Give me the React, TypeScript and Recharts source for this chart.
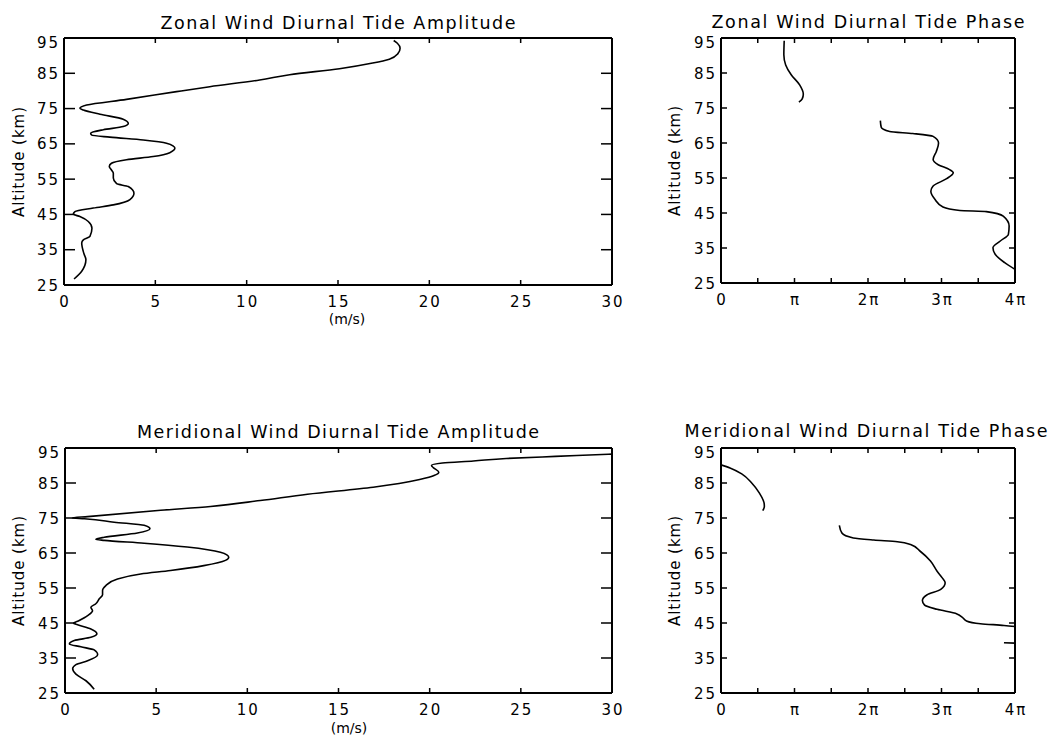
import React from 'react';
import { ScatterChart, Scatter, XAxis, YAxis } from 'recharts';

// altitude axis (km) shared by all panels
const ALT_TICKS = [25, 35, 45, 55, 65, 75, 85, 95];
const AMP_TICKS = [0, 5, 10, 15, 20, 25, 30];
// phase in units of pi
const PHASE_TICKS = [0, 0.5, 1, 1.5, 2, 2.5, 3, 3.5, 4];

type Pt = { x: number; alt: number };

// Zonal wind diurnal tide amplitude (m/s)
const zonalAmp: Pt[] = [
  { x: 0.55, alt: 26.7 }, { x: 0.97, alt: 28.9 }, { x: 1.2, alt: 32.2 }, { x: 1.09, alt: 33.9 },
  { x: 0.97, alt: 36.9 }, { x: 1.06, alt: 37.8 }, { x: 1.42, alt: 38.8 }, { x: 1.53, alt: 41.1 },
  { x: 1.33, alt: 43.0 }, { x: 0.87, alt: 44.4 }, { x: 0.51, alt: 45.1 }, { x: 0.6, alt: 45.8 },
  { x: 1.6, alt: 46.8 }, { x: 2.7, alt: 47.7 }, { x: 3.61, alt: 49.2 }, { x: 3.83, alt: 51.0 },
  { x: 3.52, alt: 52.9 }, { x: 2.88, alt: 53.7 }, { x: 2.7, alt: 55.3 }, { x: 2.7, alt: 56.7 },
  { x: 2.6, alt: 57.6 }, { x: 2.48, alt: 58.6 }, { x: 2.6, alt: 59.5 }, { x: 3.42, alt: 60.5 },
  { x: 4.88, alt: 61.4 }, { x: 5.79, alt: 62.5 }, { x: 6.07, alt: 63.8 }, { x: 5.61, alt: 65.2 },
  { x: 4.34, alt: 66.1 }, { x: 2.51, alt: 66.9 }, { x: 1.51, alt: 67.5 }, { x: 1.46, alt: 68.0 },
  { x: 2.15, alt: 69.0 }, { x: 3.24, alt: 69.9 }, { x: 3.52, alt: 70.8 }, { x: 3.24, alt: 72.0 },
  { x: 1.97, alt: 73.4 }, { x: 1.06, alt: 74.6 }, { x: 0.87, alt: 75.1 }, { x: 1.24, alt: 76.0 },
  { x: 3.42, alt: 77.6 }, { x: 6.16, alt: 79.8 }, { x: 7.98, alt: 81.2 }, { x: 10.71, alt: 83.1 },
  { x: 12.35, alt: 84.6 }, { x: 15.08, alt: 86.3 }, { x: 16.9, alt: 87.9 }, { x: 17.81, alt: 89.0 },
  { x: 18.27, alt: 90.5 }, { x: 18.4, alt: 92.1 }, { x: 18.25, alt: 93.5 }, { x: 18.05, alt: 94.3 },
];

// Zonal wind diurnal tide phase (units of pi)
const zonalPhaseUpper: Pt[] = [
  { x: 1.06, alt: 76.7 }, { x: 1.105, alt: 77.6 }, { x: 1.12, alt: 79.0 }, { x: 1.07, alt: 81.6 },
  { x: 0.955, alt: 84.5 }, { x: 0.88, alt: 87.3 }, { x: 0.855, alt: 90.2 }, { x: 0.86, alt: 94.2 },
];
const zonalPhaseLower: Pt[] = [
  { x: 4.0, alt: 28.9 }, { x: 3.86, alt: 30.8 }, { x: 3.73, alt: 33.2 }, { x: 3.7, alt: 35.1 },
  { x: 3.8, alt: 37.0 }, { x: 3.91, alt: 38.9 }, { x: 3.92, alt: 41.3 }, { x: 3.84, alt: 44.1 },
  { x: 3.61, alt: 45.4 }, { x: 3.25, alt: 45.7 }, { x: 3.02, alt: 46.7 }, { x: 2.91, alt: 48.9 },
  { x: 2.855, alt: 51.2 }, { x: 2.886, alt: 52.7 }, { x: 3.07, alt: 54.8 }, { x: 3.16, alt: 56.5 },
  { x: 3.11, alt: 57.4 }, { x: 2.955, alt: 58.8 }, { x: 2.886, alt: 60.3 }, { x: 2.93, alt: 62.6 },
  { x: 2.96, alt: 65.0 }, { x: 2.886, alt: 66.9 }, { x: 2.61, alt: 67.7 }, { x: 2.295, alt: 68.3 },
  { x: 2.18, alt: 69.5 }, { x: 2.168, alt: 71.4 },
];

// Meridional wind diurnal tide amplitude (m/s)
const merAmp: Pt[] = [
  { x: 1.6, alt: 26.1 }, { x: 1.15, alt: 28.5 }, { x: 0.6, alt: 30.4 }, { x: 0.42, alt: 31.9 },
  { x: 0.6, alt: 33.1 }, { x: 1.24, alt: 34.2 }, { x: 1.79, alt: 35.95 }, { x: 1.6, alt: 37.3 },
  { x: 0.87, alt: 38.2 }, { x: 0.24, alt: 39.0 }, { x: 0.51, alt: 40.0 }, { x: 1.42, alt: 40.9 },
  { x: 1.75, alt: 41.9 }, { x: 1.42, alt: 43.3 }, { x: 0.69, alt: 44.5 }, { x: 0.47, alt: 44.9 },
  { x: 0.78, alt: 45.7 }, { x: 1.24, alt: 47.1 }, { x: 1.51, alt: 48.5 }, { x: 1.42, alt: 49.5 },
  { x: 1.69, alt: 50.5 }, { x: 1.88, alt: 51.9 }, { x: 2.06, alt: 53.1 }, { x: 2.06, alt: 54.3 },
  { x: 2.24, alt: 55.7 }, { x: 2.88, alt: 57.6 }, { x: 4.15, alt: 59.0 }, { x: 5.79, alt: 60.0 },
  { x: 7.61, alt: 61.4 }, { x: 8.8, alt: 62.9 }, { x: 8.98, alt: 63.8 }, { x: 8.52, alt: 65.2 },
  { x: 6.7, alt: 66.7 }, { x: 4.34, alt: 67.8 }, { x: 2.15, alt: 68.6 }, { x: 1.69, alt: 68.9 },
  { x: 2.15, alt: 69.5 }, { x: 3.97, alt: 70.7 }, { x: 4.66, alt: 71.9 }, { x: 4.34, alt: 72.9 },
  { x: 2.7, alt: 73.8 }, { x: 1.06, alt: 74.8 }, { x: 0.4, alt: 75.0 }, { x: 1.24, alt: 75.4 },
  { x: 5.25, alt: 77.2 }, { x: 7.98, alt: 78.3 }, { x: 10.71, alt: 80.0 }, { x: 13.3, alt: 81.8 },
  { x: 16.9, alt: 83.8 }, { x: 19.45, alt: 86.0 }, { x: 20.27, alt: 87.2 }, { x: 20.5, alt: 88.1 },
  { x: 20.2, alt: 89.4 }, { x: 20.1, alt: 90.0 }, { x: 20.7, alt: 90.7 }, { x: 22.4, alt: 91.3 },
  { x: 24.2, alt: 92.0 }, { x: 26.9, alt: 92.6 }, { x: 29.8, alt: 93.2 }, { x: 30.0, alt: 93.25 },
];

// Meridional wind diurnal tide phase (units of pi)
const merPhaseUpper: Pt[] = [
  { x: 0.568, alt: 77.1 }, { x: 0.59, alt: 78.3 }, { x: 0.586, alt: 79.3 }, { x: 0.523, alt: 82.1 },
  { x: 0.418, alt: 85.0 }, { x: 0.282, alt: 87.6 }, { x: 0.123, alt: 89.3 }, { x: 0.0, alt: 90.2 },
];
const merPhaseLower: Pt[] = [
  { x: 4.0, alt: 44.0 }, { x: 3.85, alt: 44.3 }, { x: 3.53, alt: 44.8 }, { x: 3.34, alt: 45.6 },
  { x: 3.28, alt: 46.7 }, { x: 3.21, alt: 47.6 }, { x: 2.94, alt: 48.9 }, { x: 2.77, alt: 50.1 },
  { x: 2.74, alt: 51.4 }, { x: 2.8, alt: 53.0 }, { x: 2.99, alt: 54.6 }, { x: 3.05, alt: 56.5 },
  { x: 3.01, alt: 57.9 }, { x: 2.94, alt: 59.8 }, { x: 2.85, alt: 62.7 }, { x: 2.71, alt: 65.5 },
  { x: 2.58, alt: 67.4 }, { x: 2.4, alt: 68.2 }, { x: 2.08, alt: 68.7 }, { x: 1.8, alt: 69.3 },
  { x: 1.645, alt: 70.7 }, { x: 1.61, alt: 72.9 },
];
const merPhaseStub: Pt[] = [
  { x: 3.85, alt: 39.35 }, { x: 4.0, alt: 39.25 },
];

const FONT = '"DejaVu Sans", sans-serif';
const AXIS = { stroke: '#000', strokeWidth: 2 };
const LINE = { stroke: '#000', strokeWidth: 1.6 };

const ampFmt = (v: number) => String(v);
const phaseFmt = (v: number) => {
  if (v === 0) return '0';
  if (!Number.isInteger(v)) return '';
  return v === 1 ? '\u03c0' : `${v}\u03c0`;
};

const Empty = () => <g />;

// ticks point inward, IDL style; axes are 1px thick boxes so x/y land on the plot edge
const bottomTick = (len: number, fmt: (v: number) => string) => (p: any) => {
  const { x, y, payload } = p;
  const label = fmt(payload.value);
  return (
    <g>
      <line x1={x} y1={y} x2={x} y2={y - len} stroke="#000" strokeWidth={1.5} />
      {label && (
        <text x={x + 1} y={y + 22} textAnchor="middle" fontSize={15} fontFamily={FONT} letterSpacing={2} fill="#000">
          {label}
        </text>
      )}
    </g>
  );
};
const topTick = (len: number) => (p: any) => (
  <line x1={p.x} y1={p.y} x2={p.x} y2={p.y + len} stroke="#000" strokeWidth={1.5} />
);
const leftTick = (len: number) => (p: any) => {
  const { x, y, payload } = p;
  // the top label sits a little inside the frame, as in the original
  const dy = payload.value === 95 ? 4 : 0;
  return (
    <g>
      <line x1={x} y1={y} x2={x + len} y2={y} stroke="#000" strokeWidth={1.5} />
      <text x={x - 4} y={y + 5.5 + dy} textAnchor="end" fontSize={15} fontFamily={FONT} letterSpacing={2} fill="#000">
        {payload.value}
      </text>
    </g>
  );
};
const rightTick = (len: number) => (p: any) => (
  <line x1={p.x} y1={p.y} x2={p.x - len} y2={p.y} stroke="#000" strokeWidth={1.5} />
);

type PanelProps = {
  left: number;
  top: number;
  width: number;
  height: number;
  plot: { top: number; right: number; bottom: number; left: number };
  xDomain: [number, number];
  xTicks: number[];
  xFmt: (v: number) => string;
  xTickLen: number;
  yTickLen: number;
  series: Pt[][];
};

const Panel = ({ left, top, width, height, plot, xDomain, xTicks, xFmt, xTickLen, yTickLen, series }: PanelProps) => (
  <div style={{ position: 'absolute', left, top }}>
    <ScatterChart width={width} height={height}
      margin={{ top: plot.top - 1, right: plot.right - 1, bottom: plot.bottom - 1, left: plot.left - 1 }}>
      <XAxis xAxisId="b" type="number" dataKey="x" domain={xDomain} ticks={xTicks} interval={0}
        allowDataOverflow height={1} tickSize={0} tickMargin={0} tickLine={false} axisLine={AXIS}
        tick={bottomTick(xTickLen, xFmt)} />
      <XAxis xAxisId="t" orientation="top" type="number" dataKey="x" domain={xDomain} ticks={xTicks} interval={0}
        allowDataOverflow height={1} tickSize={0} tickMargin={0} tickLine={false} axisLine={AXIS}
        tick={topTick(xTickLen)} />
      <YAxis yAxisId="l" type="number" dataKey="alt" domain={[25, 95]} ticks={ALT_TICKS} interval={0}
        allowDataOverflow width={1} tickSize={0} tickMargin={0} tickLine={false} axisLine={AXIS}
        tick={leftTick(yTickLen)} />
      <YAxis yAxisId="r" orientation="right" type="number" dataKey="alt" domain={[25, 95]} ticks={ALT_TICKS} interval={0}
        allowDataOverflow width={1} tickSize={0} tickMargin={0} tickLine={false} axisLine={AXIS}
        tick={rightTick(yTickLen)} />
      {series.map((d, i) => (
        <Scatter key={i} xAxisId="b" yAxisId="l" data={d} line={LINE} lineJointType="monotoneY"
          shape={Empty} isAnimationActive={false} />
      ))}
      {/* keep the mirrored axes tied to the same data */}
      <Scatter xAxisId="t" yAxisId="r" data={series[0]} shape={Empty} isAnimationActive={false} />
    </ScatterChart>
  </div>
);

const TITLES = [
  { text: 'Zonal Wind Diurnal Tide Amplitude', x: 338, y: 29, len: 355 },
  { text: 'Zonal Wind Diurnal Tide Phase', x: 868, y: 28, len: 313 },
  { text: 'Meridional Wind Diurnal Tide Amplitude', x: 338, y: 438, len: 402 },
  { text: 'Meridional Wind Diurnal Tide Phase', x: 866, y: 437, len: 363 },
];
const Y_LABELS = [
  { x: 24, y: 162 }, { x: 680, y: 161 }, { x: 24, y: 571 }, { x: 680, y: 571 },
];
const UNIT_LABELS = [
  { x: 347, y: 324 }, { x: 349, y: 733 },
];

export default function App() {
  return (
    <div style={{ position: 'absolute', left: 0, top: 0, width: 1056, height: 743, background: '#fff', fontFamily: FONT }}>
      <Panel left={0} top={0} width={640} height={340} plot={{ top: 38, right: 28, bottom: 55, left: 64 }}
        xDomain={[0, 30]} xTicks={AMP_TICKS} xFmt={ampFmt} xTickLen={5} yTickLen={11} series={[zonalAmp]} />
      <Panel left={660} top={0} width={396} height={340} plot={{ top: 38, right: 41, bottom: 57, left: 61 }}
        xDomain={[0, 4]} xTicks={PHASE_TICKS} xFmt={phaseFmt} xTickLen={5} yTickLen={6}
        series={[zonalPhaseUpper, zonalPhaseLower]} />
      <Panel left={0} top={400} width={640} height={343} plot={{ top: 48, right: 28, bottom: 50, left: 65 }}
        xDomain={[0, 30]} xTicks={AMP_TICKS} xFmt={ampFmt} xTickLen={5} yTickLen={11} series={[merAmp]} />
      <Panel left={660} top={400} width={396} height={343} plot={{ top: 48, right: 41, bottom: 50, left: 61 }}
        xDomain={[0, 4]} xTicks={PHASE_TICKS} xFmt={phaseFmt} xTickLen={5} yTickLen={6}
        series={[merPhaseUpper, merPhaseLower, merPhaseStub]} />
      <svg width={1056} height={743} style={{ position: 'absolute', left: 0, top: 0, pointerEvents: 'none' }}>
        {TITLES.map((t) => (
          <text key={t.text} x={t.x} y={t.y} textAnchor="middle" fontSize={17.5} fontFamily={FONT}
            textLength={t.len} lengthAdjust="spacing" fill="#000">
            {t.text}
          </text>
        ))}
        {Y_LABELS.map((l, i) => (
          <text key={i} x={l.x} y={l.y} transform={`rotate(-90 ${l.x} ${l.y})`} textAnchor="middle"
            fontSize={15} fontFamily={FONT} textLength={110} lengthAdjust="spacing" fill="#000">
            Altitude (km)
          </text>
        ))}
        {UNIT_LABELS.map((l, i) => (
          <text key={i} x={l.x} y={l.y} textAnchor="middle" fontSize={14} fontFamily={FONT} fill="#000">
            (m/s)
          </text>
        ))}
      </svg>
    </div>
  );
}
